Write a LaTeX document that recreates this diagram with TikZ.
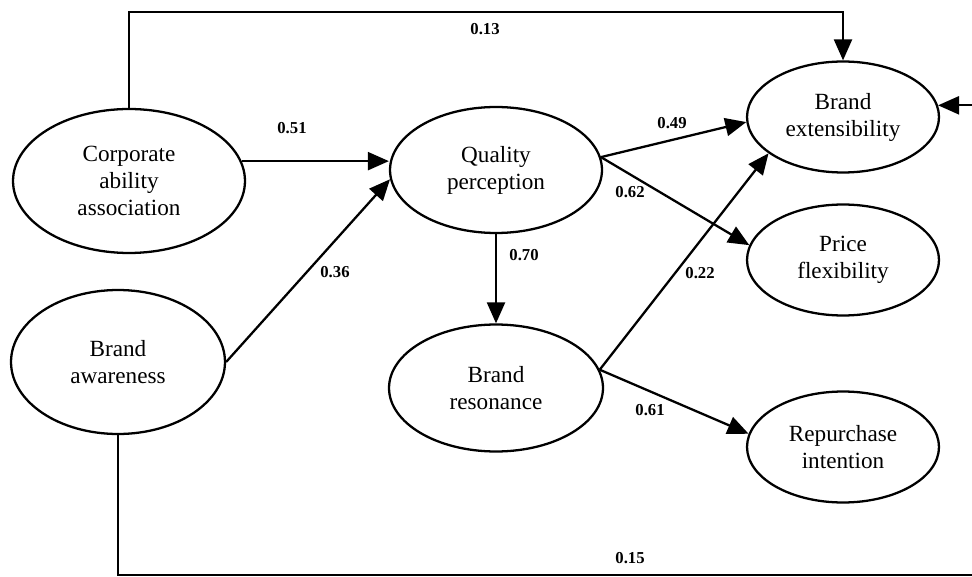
\documentclass[tikz,border=0pt]{standalone}
\usepackage{fontspec}
\setmainfont{Liberation Serif}
\usetikzlibrary{shapes.geometric,arrows.meta}

\begin{document}
\begin{tikzpicture}[x=0.02cm,y=-0.02cm,
		construct/.style={ellipse,draw,line width=1.3pt,inner sep=0pt,align=center,
			font=\fontsize{13.2}{15.4}\selectfont},
		effect/.style={line width=1.3pt,-{Triangle[length=0.42cm,width=0.36cm]}},
		weight/.style={font=\fontsize{9.5}{11}\selectfont\bfseries,inner sep=1pt}]
		\useasboundingbox (0,0) rectangle (972,577);

		\node[construct,minimum width=4.64cm,minimum height=2.88cm] (corp) at (129,181) {Corporate\\ability\\association};
		\node[construct,minimum width=4.28cm,minimum height=2.88cm] (aware) at (118,362) {Brand\\awareness};
		\node[construct,minimum width=4.24cm,minimum height=2.52cm] (quality) at (496,170) {Quality\\perception};
		\node[construct,minimum width=4.28cm,minimum height=2.54cm] (reson) at (496,388) {Brand\\resonance};
		\node[construct,minimum width=3.84cm,minimum height=2.22cm] (ext) at (843,117) {Brand\\extensibility};
		\node[construct,minimum width=3.84cm,minimum height=2.22cm] (price) at (843,260) {Price\\flexibility};
		\node[construct,minimum width=3.84cm,minimum height=2.22cm] (repur) at (843,447) {Repurchase\\intention};

		\coordinate (top) at (0,12);
		\coordinate (bot) at (990,575);

		\draw[effect] (corp.north) -- (corp.north |- top) -| (ext.north);
		\draw[effect] (corp.10) -- (corp.10 -| quality.west);
		\draw[effect] (aware.east) -- (quality.185);
		\draw[effect] (quality.7) -- (ext.183);
		\draw[effect] (quality.7) -- (price.171);
		\draw[effect] (quality.south) -- (reson.north);
		\draw[effect] (reson.10) -- (ext.206);
		\draw[effect] (reson.10) -- (repur.172);
		\draw[effect] (aware.south) |- (bot) |- (ext.7);

		\node[weight] (w13) at (485,29) {0.13};
		\node[weight] (w51) at (292,128) {0.51};
		\node[weight] (w36) at (335,272) {0.36};
		\node[weight] (w70) at (524,255) {0.70};
		\node[weight] (w49) at (672,123) {0.49};
		\node[weight] (w62) at (630,192) {0.62};
		\node[weight] (w22) at (700,273) {0.22};
		\node[weight] (w61) at (650,410) {0.61};
		\node[weight] (w15) at (630,558) {0.15};
	\end{tikzpicture}
\end{document}
